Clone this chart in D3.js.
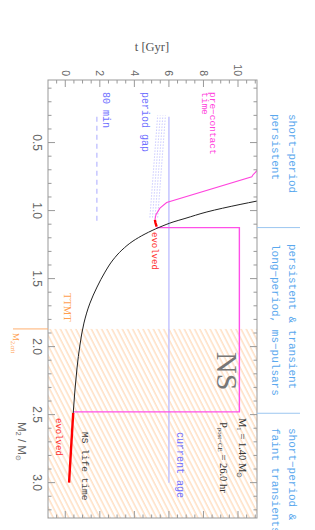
<!DOCTYPE html>
<html>
<head>
<meta charset="utf-8">
<script src="https://cdn.jsdelivr.net/npm/d3@7"></script>
<style>
  body { margin: 0; background: #fff; }
  svg { display: block; }
</style>
</head>
<body>
<div id="chart"></div>
<script>
var width = 315,
    height = 530;

// plot frame (the figure is drawn rotated: M2 runs down, t runs right)
var frameL = 48, frameR = 257, frameT = 80, frameB = 518;

// ---- data (M2 in Msun, t in Gyr) ----
var tTicks = [0, 2, 4, 6, 8, 10];
var mTicks = [0.5, 1.0, 1.5, 2.0, 2.5, 3.0];

var msTrack = [[0.925, 11.3], [0.930, 11.10], [0.955, 10.12], [1.010, 8.20], [1.058, 6.93],
               [1.084, 6.24], [1.121, 5.48], [1.172, 4.62], [1.224, 3.92], [1.290, 3.28],
               [1.363, 2.76], [1.452, 2.30], [1.562, 1.84], [1.680, 1.43], [1.827, 1.08],
               [1.988, 0.85], [2.157, 0.68], [2.319, 0.56], [2.488, 0.46]];
var msEvolved = [[2.488, 0.46], [2.76, 0.33], [3.0, 0.22]];

var preContact = [[0.70, 11.15], [0.735, 10.88], [0.752, 10.8], [0.941, 5.87],
                  [0.982, 5.48], [1.03, 5.25], [1.068, 5.19]];
var preEvolved = [[1.068, 5.19], [1.09, 5.22], [1.118, 5.29]];
var maxAge = [[1.125, 5.29], [1.125, 10.08], [2.48, 10.08], [2.48, 0.46]];

var currentAge = 6.0, currentAgeM = [0.31, 3.0];
var min80 = 1.83, min80M = [0.31, 1.09];
var gapStartT = [4.9, 5.05, 5.2, 5.35], gapM = [1.05, 0.30], gapShift = 0.45;
var m2crit = 1.87;
var regimeBreaks = [1.125, 2.49];

var x = d3.scaleLinear().domain([-1, 11.1]).range([frameL, frameR]);
var y = d3.scaleLinear().domain([0.04, 3.26]).range([frameT, frameB]);

var svg = d3.select("#chart").append("svg")
    .attr("width", width)
    .attr("height", height)
    .attr("font-family", "Liberation Mono, DejaVu Sans Mono, monospace");

var defs = svg.append("defs");
defs.append("clipPath").attr("id", "frame")
  .append("rect")
    .attr("x", frameL).attr("y", frameT)
    .attr("width", frameR - frameL).attr("height", frameB - frameT);

var pat = defs.append("pattern")
    .attr("id", "hatch")
    .attr("patternUnits", "userSpaceOnUse")
    .attr("width", 4.6).attr("height", 10)
    .attr("patternTransform", "rotate(-27)");
pat.append("line")
    .attr("x1", 1).attr("y1", 0).attr("x2", 1).attr("y2", 10)
    .attr("stroke", "#ffc898").attr("stroke-width", 0.9);

var line = d3.line()
    .x(function(d) { return x(d[1]); })
    .y(function(d) { return y(d[0]); });

var plot = svg.append("g").attr("clip-path", "url(#frame)");

// TTMT region
plot.append("rect")
    .attr("x", frameL).attr("y", y(m2crit))
    .attr("width", frameR - frameL).attr("height", frameB - y(m2crit))
    .attr("fill", "url(#hatch)");

// period gap
plot.selectAll(".gap")
    .data(gapStartT)
  .enter().append("line")
    .attr("x1", function(d) { return x(d); })
    .attr("y1", y(gapM[0]))
    .attr("x2", function(d) { return x(d + gapShift); })
    .attr("y2", y(gapM[1]))
    .attr("stroke", "#a8a8ff")
    .attr("stroke-width", 0.9)
    .attr("stroke-dasharray", "1,2");

// 80 min
plot.append("line")
    .attr("x1", x(min80)).attr("x2", x(min80))
    .attr("y1", y(min80M[0])).attr("y2", y(min80M[1]))
    .attr("stroke", "#b8b8ff").attr("stroke-width", 1.2)
    .attr("stroke-dasharray", "5,4");

// current age
plot.append("line")
    .attr("x1", x(currentAge)).attr("x2", x(currentAge))
    .attr("y1", y(currentAgeM[0])).attr("y2", y(currentAgeM[1]))
    .attr("stroke", "#c4c4ff").attr("stroke-width", 1.5);

plot.append("path").datum(maxAge)
    .attr("d", line).attr("fill", "none")
    .attr("stroke", "#ff50e8").attr("stroke-width", 1.4);

plot.append("path").datum(preContact)
    .attr("d", line).attr("fill", "none")
    .attr("stroke", "#ff44dd").attr("stroke-width", 1.1);

plot.append("path").datum(msTrack)
    .attr("d", line.curve(d3.curveMonotoneY)).attr("fill", "none")
    .attr("stroke", "#222").attr("stroke-width", 1);
line.curve(d3.curveLinear);

plot.append("path").datum(preEvolved)
    .attr("d", line).attr("fill", "none")
    .attr("stroke", "#ff0000").attr("stroke-width", 2.4);

plot.append("path").datum(msEvolved)
    .attr("d", line).attr("fill", "none")
    .attr("stroke", "#ff0000").attr("stroke-width", 2.4);

// frame and ticks
svg.append("rect")
    .attr("x", frameL).attr("y", frameT)
    .attr("width", frameR - frameL).attr("height", frameB - frameT)
    .attr("fill", "none").attr("stroke", "#999").attr("stroke-width", 1);

var axisColor = "#999";
var tMinor = d3.range(-0.5, 11.01, 0.5);
tMinor.forEach(function(t) {
  var len = (t % 2 === 0) ? 7 : 3.5;
  svg.append("line").attr("x1", x(t)).attr("x2", x(t))
      .attr("y1", frameT).attr("y2", frameT + len).attr("stroke", axisColor);
  svg.append("line").attr("x1", x(t)).attr("x2", x(t))
      .attr("y1", frameB).attr("y2", frameB - len).attr("stroke", axisColor);
});
var mMinor = d3.range(1, 33).map(function(i) { return i / 10; });
mMinor.forEach(function(m, i) {
  var len = ((i + 1) % 5 === 0) ? 7 : 3.5;
  svg.append("line").attr("x1", frameL).attr("x2", frameL + len)
      .attr("y1", y(m)).attr("y2", y(m)).attr("stroke", axisColor);
  svg.append("line").attr("x1", frameR).attr("x2", frameR - len)
      .attr("y1", y(m)).attr("y2", y(m)).attr("stroke", axisColor);
});

// rotated text helper: reads top to bottom
function vtext(px, py, parts, size, color, family, anchor) {
  var t = svg.append("text")
      .attr("transform", "translate(" + px + "," + py + ")rotate(90)")
      .attr("font-size", size)
      .attr("fill", color)
      .attr("text-anchor", anchor || "start");
  if (family) t.attr("font-family", family);
  if (typeof parts === "string") parts = [[parts]];
  parts.forEach(function(p) {
    var s = t.append("tspan").text(p[0]);
    if (p[1] === "sub") s.attr("baseline-shift", "-25%").attr("font-size", size * 0.65);
  });
  return t;
}

var sans = "Liberation Sans, Arial, sans-serif",
    serif = "Liberation Serif, Times New Roman, serif";

tTicks.forEach(function(t) {
  vtext(x(t), frameT - 4, String(t), 10.5, "#666", sans, "end").attr("dy", "0.35em");
});
mTicks.forEach(function(m) {
  vtext(33, y(m), d3.format(".1f")(m), 12, "#666", sans, "middle");
});

svg.append("text")
    .attr("x", 152).attr("y", 51)
    .attr("text-anchor", "middle")
    .attr("font-family", serif)
    .attr("font-size", 12.5)
    .attr("fill", "#555")
    .text("t [Gyr]");

vtext(18, 422, [["M"], ["2", "sub"], [" / M"], ["\u2299", "sub"]], 11.5, "#666", sans);

// regime labels on the right
var blue = "#5aa8ee";
regimeBreaks.forEach(function(m) {
  svg.append("line").attr("x1", frameR).attr("x2", 300)
      .attr("y1", y(m)).attr("y2", y(m))
      .attr("stroke", "#9cc6f0").attr("stroke-width", 1);
});
vtext(289, 114, "short\u2212period", 11, blue);
vtext(272, 114, "persistent", 11, blue);
vtext(289, 244, "persistent & transient", 11, blue);
vtext(272, 244, "long\u2212period, ms\u2212pulsars", 11, blue);
vtext(289, 428, "short\u2212period &", 11, blue);
vtext(272, 428, "faint transients", 11, blue);

vtext(210, 92, "pre\u2212contact", 9.5, "#ff44dd");
vtext(202, 92, "time", 9.5, "#ff44dd");
vtext(141.5, 92, "period gap", 10, "#6f6fff");
vtext(103, 92, "80 min", 10, "#6f6fff");
vtext(152, 232, "evolved", 9, "#ff3030");
vtext(55.5, 418, "evolved", 9, "#ff3030");
vtext(81.5, 432, "MS life time", 9.5, "#444");
vtext(176.5, 432, "current age", 10, "#6f6fff");

vtext(239, 418, [["M"], ["1", "sub"], [" = 1.40 M"], ["\u2299", "sub"]], 10.5, "#333", serif);
vtext(219.5, 422, [["P"], ["post\u2212CE", "sub"], [" = 26.0 hr"]], 10.5, "#333", serif);
vtext(217, 352, "NS", 30, "#777", serif);

// M2,crit marker and TTMT
svg.append("line")
    .attr("x1", 13).attr("x2", frameL)
    .attr("y1", y(m2crit)).attr("y2", y(m2crit))
    .attr("stroke", "#ffb070").attr("stroke-width", 1);
vtext(13, 333, [["M"], ["2,crit", "sub"]], 9, "#ffa050", serif);
vtext(64, 293, "TTMT", 10.5, "#ffa050", serif);
</script>
</body>
</html>
